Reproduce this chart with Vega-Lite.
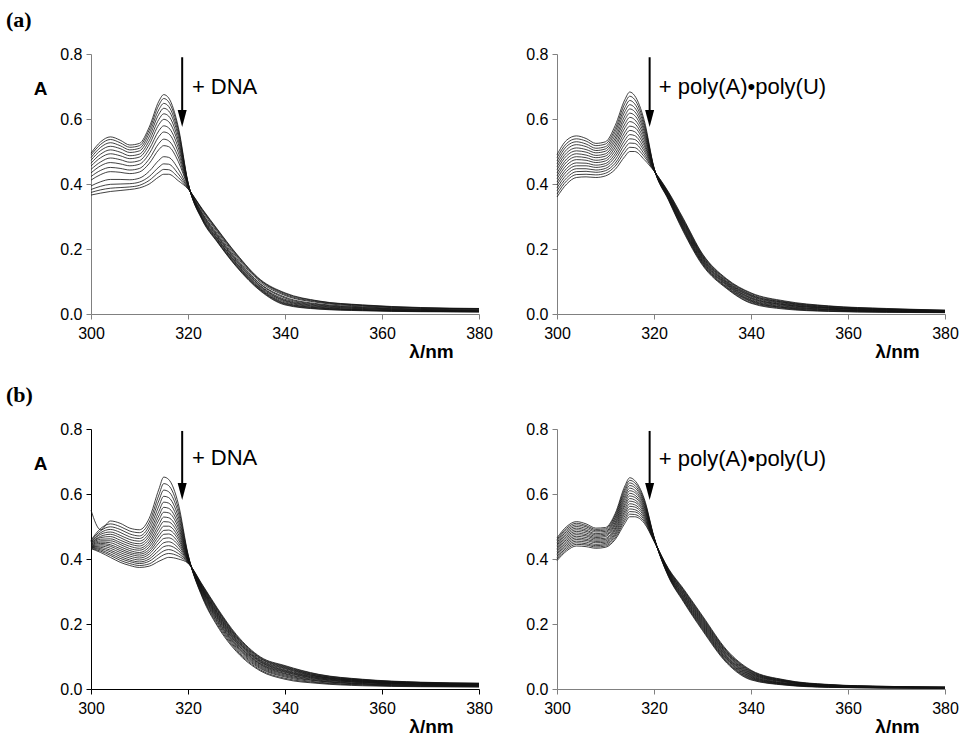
{
"$schema":"https://vega.github.io/schema/vega-lite/v6.json",
"background":"white",
"padding":{"left":6,"top":9,"right":4,"bottom":0},
"config":{"view":{"stroke":null},"font":"Liberation Sans",
"axis":{"domainColor":"#808080","tickColor":"#808080","tickSize":5,"domainWidth":1,"tickWidth":1,"labelFont":"Liberation Sans","labelFontSize":16,"labelColor":"#000","grid":false,"labelFlush":false,"labelOverlap":false,"labelBound":false,"titleFont":"Liberation Sans","titleFontWeight":"bold","titleFontSize":19,"titleColor":"#000"}},
"datasets":{
"a1":[
{"c":0,"x":300,"y":0.495},{"c":1,"x":300,"y":0.489},{"c":2,"x":300,"y":0.481},{"c":3,"x":300,"y":0.473},{"c":4,"x":300,"y":0.464},{"c":5,"x":300,"y":0.455},{"c":6,"x":300,"y":0.445},{"c":7,"x":300,"y":0.434},{"c":8,"x":300,"y":0.423},{"c":9,"x":300,"y":0.412},{"c":10,"x":300,"y":0.394},{"c":11,"x":300,"y":0.383},{"c":12,"x":300,"y":0.374},{"c":13,"x":300,"y":0.366},
{"c":0,"x":302,"y":0.530},{"c":1,"x":302,"y":0.522},{"c":2,"x":302,"y":0.513},{"c":3,"x":302,"y":0.503},{"c":4,"x":302,"y":0.492},{"c":5,"x":302,"y":0.481},{"c":6,"x":302,"y":0.468},{"c":7,"x":302,"y":0.456},{"c":8,"x":302,"y":0.442},{"c":9,"x":302,"y":0.429},{"c":10,"x":302,"y":0.407},{"c":11,"x":302,"y":0.393},{"c":12,"x":302,"y":0.382},{"c":13,"x":302,"y":0.372},
{"c":0,"x":304,"y":0.545},{"c":1,"x":304,"y":0.537},{"c":2,"x":304,"y":0.527},{"c":3,"x":304,"y":0.516},{"c":4,"x":304,"y":0.505},{"c":5,"x":304,"y":0.493},{"c":6,"x":304,"y":0.480},{"c":7,"x":304,"y":0.466},{"c":8,"x":304,"y":0.451},{"c":9,"x":304,"y":0.438},{"c":10,"x":304,"y":0.414},{"c":11,"x":304,"y":0.399},{"c":12,"x":304,"y":0.387},{"c":13,"x":304,"y":0.377},
{"c":0,"x":306,"y":0.535},{"c":1,"x":306,"y":0.527},{"c":2,"x":306,"y":0.518},{"c":3,"x":306,"y":0.509},{"c":4,"x":306,"y":0.498},{"c":5,"x":306,"y":0.487},{"c":6,"x":306,"y":0.475},{"c":7,"x":306,"y":0.462},{"c":8,"x":306,"y":0.448},{"c":9,"x":306,"y":0.436},{"c":10,"x":306,"y":0.414},{"c":11,"x":306,"y":0.400},{"c":12,"x":306,"y":0.389},{"c":13,"x":306,"y":0.380},
{"c":0,"x":308,"y":0.520},{"c":1,"x":308,"y":0.513},{"c":2,"x":308,"y":0.505},{"c":3,"x":308,"y":0.497},{"c":4,"x":308,"y":0.487},{"c":5,"x":308,"y":0.478},{"c":6,"x":308,"y":0.467},{"c":7,"x":308,"y":0.456},{"c":8,"x":308,"y":0.443},{"c":9,"x":308,"y":0.432},{"c":10,"x":308,"y":0.413},{"c":11,"x":308,"y":0.401},{"c":12,"x":308,"y":0.391},{"c":13,"x":308,"y":0.383},
{"c":0,"x":310,"y":0.525},{"c":1,"x":310,"y":0.518},{"c":2,"x":310,"y":0.510},{"c":3,"x":310,"y":0.502},{"c":4,"x":310,"y":0.492},{"c":5,"x":310,"y":0.483},{"c":6,"x":310,"y":0.472},{"c":7,"x":310,"y":0.461},{"c":8,"x":310,"y":0.448},{"c":9,"x":310,"y":0.437},{"c":10,"x":310,"y":0.418},{"c":11,"x":310,"y":0.406},{"c":12,"x":310,"y":0.396},{"c":13,"x":310,"y":0.388},
{"c":0,"x":312,"y":0.575},{"c":1,"x":312,"y":0.566},{"c":2,"x":312,"y":0.556},{"c":3,"x":312,"y":0.545},{"c":4,"x":312,"y":0.533},{"c":5,"x":312,"y":0.521},{"c":6,"x":312,"y":0.507},{"c":7,"x":312,"y":0.493},{"c":8,"x":312,"y":0.477},{"c":9,"x":312,"y":0.463},{"c":10,"x":312,"y":0.439},{"c":11,"x":312,"y":0.423},{"c":12,"x":312,"y":0.411},{"c":13,"x":312,"y":0.400},
{"c":0,"x":314,"y":0.655},{"c":1,"x":314,"y":0.643},{"c":2,"x":314,"y":0.629},{"c":3,"x":314,"y":0.615},{"c":4,"x":314,"y":0.599},{"c":5,"x":314,"y":0.583},{"c":6,"x":314,"y":0.564},{"c":7,"x":314,"y":0.546},{"c":8,"x":314,"y":0.525},{"c":9,"x":314,"y":0.506},{"c":10,"x":314,"y":0.473},{"c":11,"x":314,"y":0.452},{"c":12,"x":314,"y":0.436},{"c":13,"x":314,"y":0.422},
{"c":0,"x":315,"y":0.675},{"c":1,"x":315,"y":0.663},{"c":2,"x":315,"y":0.648},{"c":3,"x":315,"y":0.633},{"c":4,"x":315,"y":0.616},{"c":5,"x":315,"y":0.599},{"c":6,"x":315,"y":0.579},{"c":7,"x":315,"y":0.560},{"c":8,"x":315,"y":0.538},{"c":9,"x":315,"y":0.518},{"c":10,"x":315,"y":0.484},{"c":11,"x":315,"y":0.462},{"c":12,"x":315,"y":0.445},{"c":13,"x":315,"y":0.430},
{"c":0,"x":316,"y":0.665},{"c":1,"x":316,"y":0.653},{"c":2,"x":316,"y":0.639},{"c":3,"x":316,"y":0.625},{"c":4,"x":316,"y":0.609},{"c":5,"x":316,"y":0.592},{"c":6,"x":316,"y":0.573},{"c":7,"x":316,"y":0.555},{"c":8,"x":316,"y":0.533},{"c":9,"x":316,"y":0.515},{"c":10,"x":316,"y":0.482},{"c":11,"x":316,"y":0.461},{"c":12,"x":316,"y":0.444},{"c":13,"x":316,"y":0.430},
{"c":0,"x":318,"y":0.575},{"c":1,"x":318,"y":0.567},{"c":2,"x":318,"y":0.557},{"c":3,"x":318,"y":0.547},{"c":4,"x":318,"y":0.535},{"c":5,"x":318,"y":0.524},{"c":6,"x":318,"y":0.511},{"c":7,"x":318,"y":0.497},{"c":8,"x":318,"y":0.483},{"c":9,"x":318,"y":0.469},{"c":10,"x":318,"y":0.446},{"c":11,"x":318,"y":0.431},{"c":12,"x":318,"y":0.420},{"c":13,"x":318,"y":0.410},
{"c":0,"x":320,"y":0.405},{"c":1,"x":320,"y":0.404},{"c":2,"x":320,"y":0.403},{"c":3,"x":320,"y":0.402},{"c":4,"x":320,"y":0.400},{"c":5,"x":320,"y":0.399},{"c":6,"x":320,"y":0.397},{"c":7,"x":320,"y":0.396},{"c":8,"x":320,"y":0.394},{"c":9,"x":320,"y":0.392},{"c":10,"x":320,"y":0.389},{"c":11,"x":320,"y":0.388},{"c":12,"x":320,"y":0.386},{"c":13,"x":320,"y":0.385},
{"c":0,"x":323,"y":0.287},{"c":1,"x":323,"y":0.289},{"c":2,"x":323,"y":0.291},{"c":3,"x":323,"y":0.293},{"c":4,"x":323,"y":0.295},{"c":5,"x":323,"y":0.298},{"c":6,"x":323,"y":0.301},{"c":7,"x":323,"y":0.304},{"c":8,"x":323,"y":0.307},{"c":9,"x":323,"y":0.309},{"c":10,"x":323,"y":0.314},{"c":11,"x":323,"y":0.318},{"c":12,"x":323,"y":0.320},{"c":13,"x":323,"y":0.322},
{"c":0,"x":326,"y":0.222},{"c":1,"x":326,"y":0.224},{"c":2,"x":326,"y":0.226},{"c":3,"x":326,"y":0.229},{"c":4,"x":326,"y":0.232},{"c":5,"x":326,"y":0.234},{"c":6,"x":326,"y":0.238},{"c":7,"x":326,"y":0.241},{"c":8,"x":326,"y":0.244},{"c":9,"x":326,"y":0.248},{"c":10,"x":326,"y":0.253},{"c":11,"x":326,"y":0.257},{"c":12,"x":326,"y":0.260},{"c":13,"x":326,"y":0.262},
{"c":0,"x":330,"y":0.145},{"c":1,"x":330,"y":0.147},{"c":2,"x":330,"y":0.149},{"c":3,"x":330,"y":0.152},{"c":4,"x":330,"y":0.155},{"c":5,"x":330,"y":0.157},{"c":6,"x":330,"y":0.161},{"c":7,"x":330,"y":0.164},{"c":8,"x":330,"y":0.167},{"c":9,"x":330,"y":0.171},{"c":10,"x":330,"y":0.176},{"c":11,"x":330,"y":0.180},{"c":12,"x":330,"y":0.183},{"c":13,"x":330,"y":0.185},
{"c":0,"x":335,"y":0.070},{"c":1,"x":335,"y":0.072},{"c":2,"x":335,"y":0.074},{"c":3,"x":335,"y":0.076},{"c":4,"x":335,"y":0.078},{"c":5,"x":335,"y":0.081},{"c":6,"x":335,"y":0.084},{"c":7,"x":335,"y":0.086},{"c":8,"x":335,"y":0.090},{"c":9,"x":335,"y":0.092},{"c":10,"x":335,"y":0.097},{"c":11,"x":335,"y":0.101},{"c":12,"x":335,"y":0.103},{"c":13,"x":335,"y":0.105},
{"c":0,"x":340,"y":0.028},{"c":1,"x":340,"y":0.030},{"c":2,"x":340,"y":0.032},{"c":3,"x":340,"y":0.034},{"c":4,"x":340,"y":0.037},{"c":5,"x":340,"y":0.040},{"c":6,"x":340,"y":0.042},{"c":7,"x":340,"y":0.045},{"c":8,"x":340,"y":0.049},{"c":9,"x":340,"y":0.052},{"c":10,"x":340,"y":0.057},{"c":11,"x":340,"y":0.060},{"c":12,"x":340,"y":0.063},{"c":13,"x":340,"y":0.065},
{"c":0,"x":347,"y":0.015},{"c":1,"x":347,"y":0.016},{"c":2,"x":347,"y":0.018},{"c":3,"x":347,"y":0.019},{"c":4,"x":347,"y":0.021},{"c":5,"x":347,"y":0.023},{"c":6,"x":347,"y":0.025},{"c":7,"x":347,"y":0.027},{"c":8,"x":347,"y":0.029},{"c":9,"x":347,"y":0.031},{"c":10,"x":347,"y":0.035},{"c":11,"x":347,"y":0.037},{"c":12,"x":347,"y":0.039},{"c":13,"x":347,"y":0.040},
{"c":0,"x":356,"y":0.010},{"c":1,"x":356,"y":0.011},{"c":2,"x":356,"y":0.012},{"c":3,"x":356,"y":0.013},{"c":4,"x":356,"y":0.014},{"c":5,"x":356,"y":0.016},{"c":6,"x":356,"y":0.017},{"c":7,"x":356,"y":0.019},{"c":8,"x":356,"y":0.020},{"c":9,"x":356,"y":0.022},{"c":10,"x":356,"y":0.024},{"c":11,"x":356,"y":0.026},{"c":12,"x":356,"y":0.027},{"c":13,"x":356,"y":0.028},
{"c":0,"x":368,"y":0.007},{"c":1,"x":368,"y":0.008},{"c":2,"x":368,"y":0.008},{"c":3,"x":368,"y":0.009},{"c":4,"x":368,"y":0.010},{"c":5,"x":368,"y":0.011},{"c":6,"x":368,"y":0.012},{"c":7,"x":368,"y":0.013},{"c":8,"x":368,"y":0.014},{"c":9,"x":368,"y":0.015},{"c":10,"x":368,"y":0.017},{"c":11,"x":368,"y":0.018},{"c":12,"x":368,"y":0.019},{"c":13,"x":368,"y":0.020},
{"c":0,"x":380,"y":0.006},{"c":1,"x":380,"y":0.007},{"c":2,"x":380,"y":0.007},{"c":3,"x":380,"y":0.008},{"c":4,"x":380,"y":0.009},{"c":5,"x":380,"y":0.009},{"c":6,"x":380,"y":0.010},{"c":7,"x":380,"y":0.011},{"c":8,"x":380,"y":0.012},{"c":9,"x":380,"y":0.013},{"c":10,"x":380,"y":0.015},{"c":11,"x":380,"y":0.016},{"c":12,"x":380,"y":0.016},{"c":13,"x":380,"y":0.017}
],
"a2":[
{"c":0,"x":300,"y":0.490},{"c":1,"x":300,"y":0.481},{"c":2,"x":300,"y":0.471},{"c":3,"x":300,"y":0.462},{"c":4,"x":300,"y":0.453},{"c":5,"x":300,"y":0.444},{"c":6,"x":300,"y":0.434},{"c":7,"x":300,"y":0.425},{"c":8,"x":300,"y":0.416},{"c":9,"x":300,"y":0.406},{"c":10,"x":300,"y":0.397},{"c":11,"x":300,"y":0.388},{"c":12,"x":300,"y":0.379},{"c":13,"x":300,"y":0.369},{"c":14,"x":300,"y":0.360},
{"c":0,"x":302,"y":0.535},{"c":1,"x":302,"y":0.525},{"c":2,"x":302,"y":0.516},{"c":3,"x":302,"y":0.506},{"c":4,"x":302,"y":0.496},{"c":5,"x":302,"y":0.487},{"c":6,"x":302,"y":0.477},{"c":7,"x":302,"y":0.468},{"c":8,"x":302,"y":0.458},{"c":9,"x":302,"y":0.448},{"c":10,"x":302,"y":0.439},{"c":11,"x":302,"y":0.429},{"c":12,"x":302,"y":0.419},{"c":13,"x":302,"y":0.410},{"c":14,"x":302,"y":0.400},
{"c":0,"x":304,"y":0.548},{"c":1,"x":304,"y":0.539},{"c":2,"x":304,"y":0.530},{"c":3,"x":304,"y":0.521},{"c":4,"x":304,"y":0.511},{"c":5,"x":304,"y":0.502},{"c":6,"x":304,"y":0.493},{"c":7,"x":304,"y":0.484},{"c":8,"x":304,"y":0.475},{"c":9,"x":304,"y":0.465},{"c":10,"x":304,"y":0.456},{"c":11,"x":304,"y":0.447},{"c":12,"x":304,"y":0.438},{"c":13,"x":304,"y":0.429},{"c":14,"x":304,"y":0.420},
{"c":0,"x":306,"y":0.540},{"c":1,"x":306,"y":0.532},{"c":2,"x":306,"y":0.523},{"c":3,"x":306,"y":0.515},{"c":4,"x":306,"y":0.506},{"c":5,"x":306,"y":0.498},{"c":6,"x":306,"y":0.489},{"c":7,"x":306,"y":0.481},{"c":8,"x":306,"y":0.473},{"c":9,"x":306,"y":0.464},{"c":10,"x":306,"y":0.456},{"c":11,"x":306,"y":0.447},{"c":12,"x":306,"y":0.439},{"c":13,"x":306,"y":0.430},{"c":14,"x":306,"y":0.422},
{"c":0,"x":308,"y":0.525},{"c":1,"x":308,"y":0.518},{"c":2,"x":308,"y":0.510},{"c":3,"x":308,"y":0.503},{"c":4,"x":308,"y":0.496},{"c":5,"x":308,"y":0.488},{"c":6,"x":308,"y":0.481},{"c":7,"x":308,"y":0.473},{"c":8,"x":308,"y":0.466},{"c":9,"x":308,"y":0.458},{"c":10,"x":308,"y":0.451},{"c":11,"x":308,"y":0.443},{"c":12,"x":308,"y":0.436},{"c":13,"x":308,"y":0.428},{"c":14,"x":308,"y":0.420},
{"c":0,"x":310,"y":0.530},{"c":1,"x":310,"y":0.523},{"c":2,"x":310,"y":0.515},{"c":3,"x":310,"y":0.508},{"c":4,"x":310,"y":0.501},{"c":5,"x":310,"y":0.493},{"c":6,"x":310,"y":0.486},{"c":7,"x":310,"y":0.478},{"c":8,"x":310,"y":0.471},{"c":9,"x":310,"y":0.463},{"c":10,"x":310,"y":0.456},{"c":11,"x":310,"y":0.448},{"c":12,"x":310,"y":0.441},{"c":13,"x":310,"y":0.433},{"c":14,"x":310,"y":0.425},
{"c":0,"x":312,"y":0.580},{"c":1,"x":312,"y":0.570},{"c":2,"x":312,"y":0.561},{"c":3,"x":312,"y":0.551},{"c":4,"x":312,"y":0.541},{"c":5,"x":312,"y":0.532},{"c":6,"x":312,"y":0.522},{"c":7,"x":312,"y":0.513},{"c":8,"x":312,"y":0.503},{"c":9,"x":312,"y":0.493},{"c":10,"x":312,"y":0.484},{"c":11,"x":312,"y":0.474},{"c":12,"x":312,"y":0.464},{"c":13,"x":312,"y":0.455},{"c":14,"x":312,"y":0.445},
{"c":0,"x":314,"y":0.660},{"c":1,"x":314,"y":0.648},{"c":2,"x":314,"y":0.635},{"c":3,"x":314,"y":0.623},{"c":4,"x":314,"y":0.610},{"c":5,"x":314,"y":0.598},{"c":6,"x":314,"y":0.585},{"c":7,"x":314,"y":0.573},{"c":8,"x":314,"y":0.560},{"c":9,"x":314,"y":0.548},{"c":10,"x":314,"y":0.535},{"c":11,"x":314,"y":0.523},{"c":12,"x":314,"y":0.510},{"c":13,"x":314,"y":0.498},{"c":14,"x":314,"y":0.485},
{"c":0,"x":315,"y":0.683},{"c":1,"x":315,"y":0.670},{"c":2,"x":315,"y":0.657},{"c":3,"x":315,"y":0.644},{"c":4,"x":315,"y":0.631},{"c":5,"x":315,"y":0.618},{"c":6,"x":315,"y":0.605},{"c":7,"x":315,"y":0.592},{"c":8,"x":315,"y":0.578},{"c":9,"x":315,"y":0.565},{"c":10,"x":315,"y":0.552},{"c":11,"x":315,"y":0.539},{"c":12,"x":315,"y":0.526},{"c":13,"x":315,"y":0.513},{"c":14,"x":315,"y":0.500},
{"c":0,"x":316,"y":0.672},{"c":1,"x":316,"y":0.660},{"c":2,"x":316,"y":0.647},{"c":3,"x":316,"y":0.635},{"c":4,"x":316,"y":0.623},{"c":5,"x":316,"y":0.611},{"c":6,"x":316,"y":0.598},{"c":7,"x":316,"y":0.586},{"c":8,"x":316,"y":0.574},{"c":9,"x":316,"y":0.561},{"c":10,"x":316,"y":0.549},{"c":11,"x":316,"y":0.537},{"c":12,"x":316,"y":0.525},{"c":13,"x":316,"y":0.512},{"c":14,"x":316,"y":0.500},
{"c":0,"x":318,"y":0.595},{"c":1,"x":318,"y":0.586},{"c":2,"x":318,"y":0.578},{"c":3,"x":318,"y":0.569},{"c":4,"x":318,"y":0.561},{"c":5,"x":318,"y":0.552},{"c":6,"x":318,"y":0.544},{"c":7,"x":318,"y":0.535},{"c":8,"x":318,"y":0.526},{"c":9,"x":318,"y":0.518},{"c":10,"x":318,"y":0.509},{"c":11,"x":318,"y":0.501},{"c":12,"x":318,"y":0.492},{"c":13,"x":318,"y":0.484},{"c":14,"x":318,"y":0.475},
{"c":0,"x":320,"y":0.450},{"c":1,"x":320,"y":0.449},{"c":2,"x":320,"y":0.449},{"c":3,"x":320,"y":0.448},{"c":4,"x":320,"y":0.447},{"c":5,"x":320,"y":0.446},{"c":6,"x":320,"y":0.446},{"c":7,"x":320,"y":0.445},{"c":8,"x":320,"y":0.444},{"c":9,"x":320,"y":0.444},{"c":10,"x":320,"y":0.443},{"c":11,"x":320,"y":0.442},{"c":12,"x":320,"y":0.441},{"c":13,"x":320,"y":0.441},{"c":14,"x":320,"y":0.440},
{"c":0,"x":323,"y":0.350},{"c":1,"x":323,"y":0.352},{"c":2,"x":323,"y":0.354},{"c":3,"x":323,"y":0.355},{"c":4,"x":323,"y":0.357},{"c":5,"x":323,"y":0.359},{"c":6,"x":323,"y":0.361},{"c":7,"x":323,"y":0.363},{"c":8,"x":323,"y":0.364},{"c":9,"x":323,"y":0.366},{"c":10,"x":323,"y":0.368},{"c":11,"x":323,"y":0.370},{"c":12,"x":323,"y":0.371},{"c":13,"x":323,"y":0.373},{"c":14,"x":323,"y":0.375},
{"c":0,"x":326,"y":0.255},{"c":1,"x":326,"y":0.258},{"c":2,"x":326,"y":0.261},{"c":3,"x":326,"y":0.264},{"c":4,"x":326,"y":0.266},{"c":5,"x":326,"y":0.269},{"c":6,"x":326,"y":0.272},{"c":7,"x":326,"y":0.275},{"c":8,"x":326,"y":0.278},{"c":9,"x":326,"y":0.281},{"c":10,"x":326,"y":0.284},{"c":11,"x":326,"y":0.286},{"c":12,"x":326,"y":0.289},{"c":13,"x":326,"y":0.292},{"c":14,"x":326,"y":0.295},
{"c":0,"x":330,"y":0.150},{"c":1,"x":330,"y":0.153},{"c":2,"x":330,"y":0.155},{"c":3,"x":330,"y":0.158},{"c":4,"x":330,"y":0.160},{"c":5,"x":330,"y":0.163},{"c":6,"x":330,"y":0.165},{"c":7,"x":330,"y":0.168},{"c":8,"x":330,"y":0.170},{"c":9,"x":330,"y":0.173},{"c":10,"x":330,"y":0.175},{"c":11,"x":330,"y":0.178},{"c":12,"x":330,"y":0.180},{"c":13,"x":330,"y":0.183},{"c":14,"x":330,"y":0.185},
{"c":0,"x":335,"y":0.078},{"c":1,"x":335,"y":0.080},{"c":2,"x":335,"y":0.082},{"c":3,"x":335,"y":0.084},{"c":4,"x":335,"y":0.087},{"c":5,"x":335,"y":0.089},{"c":6,"x":335,"y":0.091},{"c":7,"x":335,"y":0.093},{"c":8,"x":335,"y":0.095},{"c":9,"x":335,"y":0.097},{"c":10,"x":335,"y":0.099},{"c":11,"x":335,"y":0.101},{"c":12,"x":335,"y":0.104},{"c":13,"x":335,"y":0.106},{"c":14,"x":335,"y":0.108},
{"c":0,"x":340,"y":0.033},{"c":1,"x":340,"y":0.035},{"c":2,"x":340,"y":0.038},{"c":3,"x":340,"y":0.040},{"c":4,"x":340,"y":0.042},{"c":5,"x":340,"y":0.044},{"c":6,"x":340,"y":0.047},{"c":7,"x":340,"y":0.049},{"c":8,"x":340,"y":0.051},{"c":9,"x":340,"y":0.054},{"c":10,"x":340,"y":0.056},{"c":11,"x":340,"y":0.058},{"c":12,"x":340,"y":0.060},{"c":13,"x":340,"y":0.063},{"c":14,"x":340,"y":0.065},
{"c":0,"x":347,"y":0.015},{"c":1,"x":347,"y":0.017},{"c":2,"x":347,"y":0.019},{"c":3,"x":347,"y":0.020},{"c":4,"x":347,"y":0.022},{"c":5,"x":347,"y":0.024},{"c":6,"x":347,"y":0.026},{"c":7,"x":347,"y":0.028},{"c":8,"x":347,"y":0.029},{"c":9,"x":347,"y":0.031},{"c":10,"x":347,"y":0.033},{"c":11,"x":347,"y":0.035},{"c":12,"x":347,"y":0.036},{"c":13,"x":347,"y":0.038},{"c":14,"x":347,"y":0.040},
{"c":0,"x":356,"y":0.008},{"c":1,"x":356,"y":0.009},{"c":2,"x":356,"y":0.010},{"c":3,"x":356,"y":0.012},{"c":4,"x":356,"y":0.013},{"c":5,"x":356,"y":0.014},{"c":6,"x":356,"y":0.015},{"c":7,"x":356,"y":0.017},{"c":8,"x":356,"y":0.018},{"c":9,"x":356,"y":0.019},{"c":10,"x":356,"y":0.020},{"c":11,"x":356,"y":0.021},{"c":12,"x":356,"y":0.023},{"c":13,"x":356,"y":0.024},{"c":14,"x":356,"y":0.025},
{"c":0,"x":368,"y":0.005},{"c":1,"x":368,"y":0.006},{"c":2,"x":368,"y":0.007},{"c":3,"x":368,"y":0.008},{"c":4,"x":368,"y":0.008},{"c":5,"x":368,"y":0.009},{"c":6,"x":368,"y":0.010},{"c":7,"x":368,"y":0.011},{"c":8,"x":368,"y":0.012},{"c":9,"x":368,"y":0.013},{"c":10,"x":368,"y":0.014},{"c":11,"x":368,"y":0.014},{"c":12,"x":368,"y":0.015},{"c":13,"x":368,"y":0.016},{"c":14,"x":368,"y":0.017},
{"c":0,"x":380,"y":0.004},{"c":1,"x":380,"y":0.005},{"c":2,"x":380,"y":0.005},{"c":3,"x":380,"y":0.005},{"c":4,"x":380,"y":0.006},{"c":5,"x":380,"y":0.006},{"c":6,"x":380,"y":0.007},{"c":7,"x":380,"y":0.008},{"c":8,"x":380,"y":0.009},{"c":9,"x":380,"y":0.009},{"c":10,"x":380,"y":0.010},{"c":11,"x":380,"y":0.010},{"c":12,"x":380,"y":0.011},{"c":13,"x":380,"y":0.011},{"c":14,"x":380,"y":0.012}
],
"b1":[
{"c":0,"x":300,"y":0.550},{"c":1,"x":300,"y":0.458},{"c":2,"x":300,"y":0.456},{"c":3,"x":300,"y":0.453},{"c":4,"x":300,"y":0.452},{"c":5,"x":300,"y":0.450},{"c":6,"x":300,"y":0.448},{"c":7,"x":300,"y":0.446},{"c":8,"x":300,"y":0.445},{"c":9,"x":300,"y":0.443},{"c":10,"x":300,"y":0.442},{"c":11,"x":300,"y":0.440},{"c":12,"x":300,"y":0.439},{"c":13,"x":300,"y":0.438},{"c":14,"x":300,"y":0.436},{"c":15,"x":300,"y":0.435},{"c":16,"x":300,"y":0.433},{"c":17,"x":300,"y":0.432},
{"c":0,"x":302,"y":0.490},{"c":1,"x":302,"y":0.494},{"c":2,"x":302,"y":0.487},{"c":3,"x":302,"y":0.481},{"c":4,"x":302,"y":0.476},{"c":5,"x":302,"y":0.470},{"c":6,"x":302,"y":0.466},{"c":7,"x":302,"y":0.461},{"c":8,"x":302,"y":0.456},{"c":9,"x":302,"y":0.452},{"c":10,"x":302,"y":0.448},{"c":11,"x":302,"y":0.444},{"c":12,"x":302,"y":0.440},{"c":13,"x":302,"y":0.436},{"c":14,"x":302,"y":0.432},{"c":15,"x":302,"y":0.428},{"c":16,"x":302,"y":0.424},{"c":17,"x":302,"y":0.420},
{"c":0,"x":304,"y":0.517},{"c":1,"x":304,"y":0.508},{"c":2,"x":304,"y":0.499},{"c":3,"x":304,"y":0.491},{"c":4,"x":304,"y":0.483},{"c":5,"x":304,"y":0.476},{"c":6,"x":304,"y":0.469},{"c":7,"x":304,"y":0.462},{"c":8,"x":304,"y":0.456},{"c":9,"x":304,"y":0.450},{"c":10,"x":304,"y":0.444},{"c":11,"x":304,"y":0.439},{"c":12,"x":304,"y":0.433},{"c":13,"x":304,"y":0.427},{"c":14,"x":304,"y":0.422},{"c":15,"x":304,"y":0.416},{"c":16,"x":304,"y":0.411},{"c":17,"x":304,"y":0.405},
{"c":0,"x":306,"y":0.510},{"c":1,"x":306,"y":0.500},{"c":2,"x":306,"y":0.491},{"c":3,"x":306,"y":0.482},{"c":4,"x":306,"y":0.473},{"c":5,"x":306,"y":0.466},{"c":6,"x":306,"y":0.458},{"c":7,"x":306,"y":0.451},{"c":8,"x":306,"y":0.445},{"c":9,"x":306,"y":0.438},{"c":10,"x":306,"y":0.432},{"c":11,"x":306,"y":0.426},{"c":12,"x":306,"y":0.420},{"c":13,"x":306,"y":0.414},{"c":14,"x":306,"y":0.408},{"c":15,"x":306,"y":0.402},{"c":16,"x":306,"y":0.396},{"c":17,"x":306,"y":0.390},
{"c":0,"x":308,"y":0.495},{"c":1,"x":308,"y":0.486},{"c":2,"x":308,"y":0.477},{"c":3,"x":308,"y":0.468},{"c":4,"x":308,"y":0.460},{"c":5,"x":308,"y":0.452},{"c":6,"x":308,"y":0.446},{"c":7,"x":308,"y":0.439},{"c":8,"x":308,"y":0.432},{"c":9,"x":308,"y":0.426},{"c":10,"x":308,"y":0.420},{"c":11,"x":308,"y":0.415},{"c":12,"x":308,"y":0.409},{"c":13,"x":308,"y":0.403},{"c":14,"x":308,"y":0.397},{"c":15,"x":308,"y":0.392},{"c":16,"x":308,"y":0.386},{"c":17,"x":308,"y":0.380},
{"c":0,"x":310,"y":0.490},{"c":1,"x":310,"y":0.481},{"c":2,"x":310,"y":0.471},{"c":3,"x":310,"y":0.463},{"c":4,"x":310,"y":0.455},{"c":5,"x":310,"y":0.447},{"c":6,"x":310,"y":0.440},{"c":7,"x":310,"y":0.433},{"c":8,"x":310,"y":0.427},{"c":9,"x":310,"y":0.420},{"c":10,"x":310,"y":0.415},{"c":11,"x":310,"y":0.409},{"c":12,"x":310,"y":0.403},{"c":13,"x":310,"y":0.397},{"c":14,"x":310,"y":0.391},{"c":15,"x":310,"y":0.386},{"c":16,"x":310,"y":0.380},{"c":17,"x":310,"y":0.374},
{"c":0,"x":312,"y":0.525},{"c":1,"x":312,"y":0.513},{"c":2,"x":312,"y":0.502},{"c":3,"x":312,"y":0.491},{"c":4,"x":312,"y":0.480},{"c":5,"x":312,"y":0.471},{"c":6,"x":312,"y":0.462},{"c":7,"x":312,"y":0.453},{"c":8,"x":312,"y":0.445},{"c":9,"x":312,"y":0.437},{"c":10,"x":312,"y":0.429},{"c":11,"x":312,"y":0.422},{"c":12,"x":312,"y":0.415},{"c":13,"x":312,"y":0.407},{"c":14,"x":312,"y":0.400},{"c":15,"x":312,"y":0.393},{"c":16,"x":312,"y":0.385},{"c":17,"x":312,"y":0.378},
{"c":0,"x":314,"y":0.615},{"c":1,"x":314,"y":0.597},{"c":2,"x":314,"y":0.580},{"c":3,"x":314,"y":0.563},{"c":4,"x":314,"y":0.547},{"c":5,"x":314,"y":0.533},{"c":6,"x":314,"y":0.520},{"c":7,"x":314,"y":0.506},{"c":8,"x":314,"y":0.494},{"c":9,"x":314,"y":0.482},{"c":10,"x":314,"y":0.471},{"c":11,"x":314,"y":0.460},{"c":12,"x":314,"y":0.449},{"c":13,"x":314,"y":0.437},{"c":14,"x":314,"y":0.426},{"c":15,"x":314,"y":0.415},{"c":16,"x":314,"y":0.404},{"c":17,"x":314,"y":0.393},
{"c":0,"x":315,"y":0.652},{"c":1,"x":315,"y":0.632},{"c":2,"x":315,"y":0.612},{"c":3,"x":315,"y":0.593},{"c":4,"x":315,"y":0.575},{"c":5,"x":315,"y":0.559},{"c":6,"x":315,"y":0.544},{"c":7,"x":315,"y":0.529},{"c":8,"x":315,"y":0.515},{"c":9,"x":315,"y":0.501},{"c":10,"x":315,"y":0.488},{"c":11,"x":315,"y":0.476},{"c":12,"x":315,"y":0.463},{"c":13,"x":315,"y":0.450},{"c":14,"x":315,"y":0.438},{"c":15,"x":315,"y":0.425},{"c":16,"x":315,"y":0.413},{"c":17,"x":315,"y":0.400},
{"c":0,"x":316,"y":0.645},{"c":1,"x":316,"y":0.626},{"c":2,"x":316,"y":0.607},{"c":3,"x":316,"y":0.589},{"c":4,"x":316,"y":0.572},{"c":5,"x":316,"y":0.556},{"c":6,"x":316,"y":0.542},{"c":7,"x":316,"y":0.527},{"c":8,"x":316,"y":0.514},{"c":9,"x":316,"y":0.501},{"c":10,"x":316,"y":0.489},{"c":11,"x":316,"y":0.477},{"c":12,"x":316,"y":0.465},{"c":13,"x":316,"y":0.453},{"c":14,"x":316,"y":0.441},{"c":15,"x":316,"y":0.429},{"c":16,"x":316,"y":0.417},{"c":17,"x":316,"y":0.405},
{"c":0,"x":318,"y":0.570},{"c":1,"x":318,"y":0.556},{"c":2,"x":318,"y":0.543},{"c":3,"x":318,"y":0.530},{"c":4,"x":318,"y":0.518},{"c":5,"x":318,"y":0.507},{"c":6,"x":318,"y":0.497},{"c":7,"x":318,"y":0.487},{"c":8,"x":318,"y":0.477},{"c":9,"x":318,"y":0.468},{"c":10,"x":318,"y":0.460},{"c":11,"x":318,"y":0.451},{"c":12,"x":318,"y":0.443},{"c":13,"x":318,"y":0.434},{"c":14,"x":318,"y":0.426},{"c":15,"x":318,"y":0.417},{"c":16,"x":318,"y":0.409},{"c":17,"x":318,"y":0.400},
{"c":0,"x":320,"y":0.415},{"c":1,"x":320,"y":0.413},{"c":2,"x":320,"y":0.411},{"c":3,"x":320,"y":0.408},{"c":4,"x":320,"y":0.406},{"c":5,"x":320,"y":0.405},{"c":6,"x":320,"y":0.403},{"c":7,"x":320,"y":0.401},{"c":8,"x":320,"y":0.400},{"c":9,"x":320,"y":0.398},{"c":10,"x":320,"y":0.397},{"c":11,"x":320,"y":0.395},{"c":12,"x":320,"y":0.394},{"c":13,"x":320,"y":0.393},{"c":14,"x":320,"y":0.391},{"c":15,"x":320,"y":0.390},{"c":16,"x":320,"y":0.388},{"c":17,"x":320,"y":0.387},
{"c":0,"x":323,"y":0.280},{"c":1,"x":323,"y":0.283},{"c":2,"x":323,"y":0.286},{"c":3,"x":323,"y":0.289},{"c":4,"x":323,"y":0.292},{"c":5,"x":323,"y":0.295},{"c":6,"x":323,"y":0.297},{"c":7,"x":323,"y":0.300},{"c":8,"x":323,"y":0.302},{"c":9,"x":323,"y":0.304},{"c":10,"x":323,"y":0.306},{"c":11,"x":323,"y":0.308},{"c":12,"x":323,"y":0.310},{"c":13,"x":323,"y":0.312},{"c":14,"x":323,"y":0.314},{"c":15,"x":323,"y":0.316},{"c":16,"x":323,"y":0.318},{"c":17,"x":323,"y":0.320},
{"c":0,"x":326,"y":0.195},{"c":1,"x":326,"y":0.199},{"c":2,"x":326,"y":0.204},{"c":3,"x":326,"y":0.208},{"c":4,"x":326,"y":0.212},{"c":5,"x":326,"y":0.215},{"c":6,"x":326,"y":0.219},{"c":7,"x":326,"y":0.222},{"c":8,"x":326,"y":0.225},{"c":9,"x":326,"y":0.228},{"c":10,"x":326,"y":0.231},{"c":11,"x":326,"y":0.234},{"c":12,"x":326,"y":0.236},{"c":13,"x":326,"y":0.239},{"c":14,"x":326,"y":0.242},{"c":15,"x":326,"y":0.245},{"c":16,"x":326,"y":0.247},{"c":17,"x":326,"y":0.250},
{"c":0,"x":330,"y":0.115},{"c":1,"x":330,"y":0.119},{"c":2,"x":330,"y":0.123},{"c":3,"x":330,"y":0.127},{"c":4,"x":330,"y":0.131},{"c":5,"x":330,"y":0.134},{"c":6,"x":330,"y":0.137},{"c":7,"x":330,"y":0.141},{"c":8,"x":330,"y":0.143},{"c":9,"x":330,"y":0.146},{"c":10,"x":330,"y":0.149},{"c":11,"x":330,"y":0.151},{"c":12,"x":330,"y":0.154},{"c":13,"x":330,"y":0.157},{"c":14,"x":330,"y":0.159},{"c":15,"x":330,"y":0.162},{"c":16,"x":330,"y":0.164},{"c":17,"x":330,"y":0.167},
{"c":0,"x":335,"y":0.055},{"c":1,"x":335,"y":0.058},{"c":2,"x":335,"y":0.062},{"c":3,"x":335,"y":0.065},{"c":4,"x":335,"y":0.068},{"c":5,"x":335,"y":0.071},{"c":6,"x":335,"y":0.074},{"c":7,"x":335,"y":0.076},{"c":8,"x":335,"y":0.078},{"c":9,"x":335,"y":0.081},{"c":10,"x":335,"y":0.083},{"c":11,"x":335,"y":0.085},{"c":12,"x":335,"y":0.087},{"c":13,"x":335,"y":0.089},{"c":14,"x":335,"y":0.092},{"c":15,"x":335,"y":0.094},{"c":16,"x":335,"y":0.096},{"c":17,"x":335,"y":0.098},
{"c":0,"x":340,"y":0.030},{"c":1,"x":340,"y":0.033},{"c":2,"x":340,"y":0.037},{"c":3,"x":340,"y":0.040},{"c":4,"x":340,"y":0.043},{"c":5,"x":340,"y":0.046},{"c":6,"x":340,"y":0.048},{"c":7,"x":340,"y":0.051},{"c":8,"x":340,"y":0.053},{"c":9,"x":340,"y":0.055},{"c":10,"x":340,"y":0.057},{"c":11,"x":340,"y":0.059},{"c":12,"x":340,"y":0.062},{"c":13,"x":340,"y":0.064},{"c":14,"x":340,"y":0.066},{"c":15,"x":340,"y":0.068},{"c":16,"x":340,"y":0.070},{"c":17,"x":340,"y":0.072},
{"c":0,"x":347,"y":0.017},{"c":1,"x":347,"y":0.019},{"c":2,"x":347,"y":0.021},{"c":3,"x":347,"y":0.024},{"c":4,"x":347,"y":0.025},{"c":5,"x":347,"y":0.027},{"c":6,"x":347,"y":0.029},{"c":7,"x":347,"y":0.031},{"c":8,"x":347,"y":0.032},{"c":9,"x":347,"y":0.034},{"c":10,"x":347,"y":0.035},{"c":11,"x":347,"y":0.037},{"c":12,"x":347,"y":0.038},{"c":13,"x":347,"y":0.039},{"c":14,"x":347,"y":0.041},{"c":15,"x":347,"y":0.042},{"c":16,"x":347,"y":0.044},{"c":17,"x":347,"y":0.045},
{"c":0,"x":356,"y":0.010},{"c":1,"x":356,"y":0.012},{"c":2,"x":356,"y":0.013},{"c":3,"x":356,"y":0.015},{"c":4,"x":356,"y":0.016},{"c":5,"x":356,"y":0.017},{"c":6,"x":356,"y":0.019},{"c":7,"x":356,"y":0.020},{"c":8,"x":356,"y":0.021},{"c":9,"x":356,"y":0.022},{"c":10,"x":356,"y":0.023},{"c":11,"x":356,"y":0.024},{"c":12,"x":356,"y":0.025},{"c":13,"x":356,"y":0.026},{"c":14,"x":356,"y":0.027},{"c":15,"x":356,"y":0.028},{"c":16,"x":356,"y":0.029},{"c":17,"x":356,"y":0.030},
{"c":0,"x":368,"y":0.007},{"c":1,"x":368,"y":0.008},{"c":2,"x":368,"y":0.009},{"c":3,"x":368,"y":0.010},{"c":4,"x":368,"y":0.011},{"c":5,"x":368,"y":0.012},{"c":6,"x":368,"y":0.013},{"c":7,"x":368,"y":0.014},{"c":8,"x":368,"y":0.015},{"c":9,"x":368,"y":0.015},{"c":10,"x":368,"y":0.016},{"c":11,"x":368,"y":0.017},{"c":12,"x":368,"y":0.018},{"c":13,"x":368,"y":0.018},{"c":14,"x":368,"y":0.019},{"c":15,"x":368,"y":0.020},{"c":16,"x":368,"y":0.020},{"c":17,"x":368,"y":0.021},
{"c":0,"x":380,"y":0.006},{"c":1,"x":380,"y":0.007},{"c":2,"x":380,"y":0.008},{"c":3,"x":380,"y":0.009},{"c":4,"x":380,"y":0.010},{"c":5,"x":380,"y":0.010},{"c":6,"x":380,"y":0.011},{"c":7,"x":380,"y":0.012},{"c":8,"x":380,"y":0.013},{"c":9,"x":380,"y":0.013},{"c":10,"x":380,"y":0.014},{"c":11,"x":380,"y":0.014},{"c":12,"x":380,"y":0.015},{"c":13,"x":380,"y":0.016},{"c":14,"x":380,"y":0.016},{"c":15,"x":380,"y":0.017},{"c":16,"x":380,"y":0.017},{"c":17,"x":380,"y":0.018}
],
"b2":[
{"c":0,"x":300,"y":0.465},{"c":1,"x":300,"y":0.460},{"c":2,"x":300,"y":0.456},{"c":3,"x":300,"y":0.451},{"c":4,"x":300,"y":0.446},{"c":5,"x":300,"y":0.442},{"c":6,"x":300,"y":0.437},{"c":7,"x":300,"y":0.432},{"c":8,"x":300,"y":0.428},{"c":9,"x":300,"y":0.423},{"c":10,"x":300,"y":0.418},{"c":11,"x":300,"y":0.414},{"c":12,"x":300,"y":0.409},{"c":13,"x":300,"y":0.404},{"c":14,"x":300,"y":0.400},{"c":15,"x":300,"y":0.395},
{"c":0,"x":302,"y":0.500},{"c":1,"x":302,"y":0.495},{"c":2,"x":302,"y":0.490},{"c":3,"x":302,"y":0.485},{"c":4,"x":302,"y":0.480},{"c":5,"x":302,"y":0.475},{"c":6,"x":302,"y":0.470},{"c":7,"x":302,"y":0.465},{"c":8,"x":302,"y":0.460},{"c":9,"x":302,"y":0.455},{"c":10,"x":302,"y":0.450},{"c":11,"x":302,"y":0.445},{"c":12,"x":302,"y":0.440},{"c":13,"x":302,"y":0.435},{"c":14,"x":302,"y":0.430},{"c":15,"x":302,"y":0.425},
{"c":0,"x":304,"y":0.515},{"c":1,"x":304,"y":0.510},{"c":2,"x":304,"y":0.505},{"c":3,"x":304,"y":0.500},{"c":4,"x":304,"y":0.495},{"c":5,"x":304,"y":0.490},{"c":6,"x":304,"y":0.485},{"c":7,"x":304,"y":0.480},{"c":8,"x":304,"y":0.475},{"c":9,"x":304,"y":0.470},{"c":10,"x":304,"y":0.465},{"c":11,"x":304,"y":0.460},{"c":12,"x":304,"y":0.455},{"c":13,"x":304,"y":0.450},{"c":14,"x":304,"y":0.445},{"c":15,"x":304,"y":0.440},
{"c":0,"x":306,"y":0.508},{"c":1,"x":306,"y":0.503},{"c":2,"x":306,"y":0.499},{"c":3,"x":306,"y":0.494},{"c":4,"x":306,"y":0.489},{"c":5,"x":306,"y":0.485},{"c":6,"x":306,"y":0.480},{"c":7,"x":306,"y":0.475},{"c":8,"x":306,"y":0.471},{"c":9,"x":306,"y":0.466},{"c":10,"x":306,"y":0.461},{"c":11,"x":306,"y":0.457},{"c":12,"x":306,"y":0.452},{"c":13,"x":306,"y":0.447},{"c":14,"x":306,"y":0.443},{"c":15,"x":306,"y":0.438},
{"c":0,"x":308,"y":0.495},{"c":1,"x":308,"y":0.491},{"c":2,"x":308,"y":0.487},{"c":3,"x":308,"y":0.483},{"c":4,"x":308,"y":0.478},{"c":5,"x":308,"y":0.474},{"c":6,"x":308,"y":0.470},{"c":7,"x":308,"y":0.466},{"c":8,"x":308,"y":0.462},{"c":9,"x":308,"y":0.458},{"c":10,"x":308,"y":0.454},{"c":11,"x":308,"y":0.450},{"c":12,"x":308,"y":0.445},{"c":13,"x":308,"y":0.441},{"c":14,"x":308,"y":0.437},{"c":15,"x":308,"y":0.433},
{"c":0,"x":310,"y":0.497},{"c":1,"x":310,"y":0.493},{"c":2,"x":310,"y":0.489},{"c":3,"x":310,"y":0.485},{"c":4,"x":310,"y":0.481},{"c":5,"x":310,"y":0.477},{"c":6,"x":310,"y":0.473},{"c":7,"x":310,"y":0.469},{"c":8,"x":310,"y":0.464},{"c":9,"x":310,"y":0.460},{"c":10,"x":310,"y":0.456},{"c":11,"x":310,"y":0.452},{"c":12,"x":310,"y":0.448},{"c":13,"x":310,"y":0.444},{"c":14,"x":310,"y":0.440},{"c":15,"x":310,"y":0.436},
{"c":0,"x":312,"y":0.540},{"c":1,"x":312,"y":0.535},{"c":2,"x":312,"y":0.529},{"c":3,"x":312,"y":0.524},{"c":4,"x":312,"y":0.519},{"c":5,"x":312,"y":0.513},{"c":6,"x":312,"y":0.508},{"c":7,"x":312,"y":0.503},{"c":8,"x":312,"y":0.497},{"c":9,"x":312,"y":0.492},{"c":10,"x":312,"y":0.487},{"c":11,"x":312,"y":0.481},{"c":12,"x":312,"y":0.476},{"c":13,"x":312,"y":0.471},{"c":14,"x":312,"y":0.465},{"c":15,"x":312,"y":0.460},
{"c":0,"x":314,"y":0.625},{"c":1,"x":314,"y":0.617},{"c":2,"x":314,"y":0.610},{"c":3,"x":314,"y":0.602},{"c":4,"x":314,"y":0.594},{"c":5,"x":314,"y":0.587},{"c":6,"x":314,"y":0.579},{"c":7,"x":314,"y":0.571},{"c":8,"x":314,"y":0.564},{"c":9,"x":314,"y":0.556},{"c":10,"x":314,"y":0.548},{"c":11,"x":314,"y":0.541},{"c":12,"x":314,"y":0.533},{"c":13,"x":314,"y":0.525},{"c":14,"x":314,"y":0.518},{"c":15,"x":314,"y":0.510},
{"c":0,"x":315,"y":0.650},{"c":1,"x":315,"y":0.642},{"c":2,"x":315,"y":0.634},{"c":3,"x":315,"y":0.626},{"c":4,"x":315,"y":0.618},{"c":5,"x":315,"y":0.610},{"c":6,"x":315,"y":0.602},{"c":7,"x":315,"y":0.594},{"c":8,"x":315,"y":0.586},{"c":9,"x":315,"y":0.578},{"c":10,"x":315,"y":0.570},{"c":11,"x":315,"y":0.562},{"c":12,"x":315,"y":0.554},{"c":13,"x":315,"y":0.546},{"c":14,"x":315,"y":0.538},{"c":15,"x":315,"y":0.530},
{"c":0,"x":316,"y":0.642},{"c":1,"x":316,"y":0.635},{"c":2,"x":316,"y":0.627},{"c":3,"x":316,"y":0.620},{"c":4,"x":316,"y":0.612},{"c":5,"x":316,"y":0.605},{"c":6,"x":316,"y":0.597},{"c":7,"x":316,"y":0.590},{"c":8,"x":316,"y":0.582},{"c":9,"x":316,"y":0.575},{"c":10,"x":316,"y":0.567},{"c":11,"x":316,"y":0.560},{"c":12,"x":316,"y":0.552},{"c":13,"x":316,"y":0.545},{"c":14,"x":316,"y":0.537},{"c":15,"x":316,"y":0.530},
{"c":0,"x":318,"y":0.585},{"c":1,"x":318,"y":0.580},{"c":2,"x":318,"y":0.575},{"c":3,"x":318,"y":0.570},{"c":4,"x":318,"y":0.565},{"c":5,"x":318,"y":0.560},{"c":6,"x":318,"y":0.555},{"c":7,"x":318,"y":0.550},{"c":8,"x":318,"y":0.545},{"c":9,"x":318,"y":0.540},{"c":10,"x":318,"y":0.535},{"c":11,"x":318,"y":0.530},{"c":12,"x":318,"y":0.525},{"c":13,"x":318,"y":0.520},{"c":14,"x":318,"y":0.515},{"c":15,"x":318,"y":0.510},
{"c":0,"x":320,"y":0.468},{"c":1,"x":320,"y":0.467},{"c":2,"x":320,"y":0.466},{"c":3,"x":320,"y":0.465},{"c":4,"x":320,"y":0.465},{"c":5,"x":320,"y":0.464},{"c":6,"x":320,"y":0.463},{"c":7,"x":320,"y":0.462},{"c":8,"x":320,"y":0.461},{"c":9,"x":320,"y":0.460},{"c":10,"x":320,"y":0.459},{"c":11,"x":320,"y":0.458},{"c":12,"x":320,"y":0.458},{"c":13,"x":320,"y":0.457},{"c":14,"x":320,"y":0.456},{"c":15,"x":320,"y":0.455},
{"c":0,"x":323,"y":0.345},{"c":1,"x":323,"y":0.347},{"c":2,"x":323,"y":0.348},{"c":3,"x":323,"y":0.350},{"c":4,"x":323,"y":0.352},{"c":5,"x":323,"y":0.353},{"c":6,"x":323,"y":0.355},{"c":7,"x":323,"y":0.357},{"c":8,"x":323,"y":0.358},{"c":9,"x":323,"y":0.360},{"c":10,"x":323,"y":0.362},{"c":11,"x":323,"y":0.363},{"c":12,"x":323,"y":0.365},{"c":13,"x":323,"y":0.367},{"c":14,"x":323,"y":0.368},{"c":15,"x":323,"y":0.370},
{"c":0,"x":326,"y":0.270},{"c":1,"x":326,"y":0.273},{"c":2,"x":326,"y":0.275},{"c":3,"x":326,"y":0.278},{"c":4,"x":326,"y":0.281},{"c":5,"x":326,"y":0.283},{"c":6,"x":326,"y":0.286},{"c":7,"x":326,"y":0.289},{"c":8,"x":326,"y":0.291},{"c":9,"x":326,"y":0.294},{"c":10,"x":326,"y":0.297},{"c":11,"x":326,"y":0.299},{"c":12,"x":326,"y":0.302},{"c":13,"x":326,"y":0.305},{"c":14,"x":326,"y":0.307},{"c":15,"x":326,"y":0.310},
{"c":0,"x":330,"y":0.180},{"c":1,"x":330,"y":0.183},{"c":2,"x":330,"y":0.186},{"c":3,"x":330,"y":0.189},{"c":4,"x":330,"y":0.192},{"c":5,"x":330,"y":0.195},{"c":6,"x":330,"y":0.198},{"c":7,"x":330,"y":0.201},{"c":8,"x":330,"y":0.204},{"c":9,"x":330,"y":0.207},{"c":10,"x":330,"y":0.210},{"c":11,"x":330,"y":0.213},{"c":12,"x":330,"y":0.216},{"c":13,"x":330,"y":0.219},{"c":14,"x":330,"y":0.222},{"c":15,"x":330,"y":0.225},
{"c":0,"x":335,"y":0.080},{"c":1,"x":335,"y":0.083},{"c":2,"x":335,"y":0.085},{"c":3,"x":335,"y":0.088},{"c":4,"x":335,"y":0.091},{"c":5,"x":335,"y":0.093},{"c":6,"x":335,"y":0.096},{"c":7,"x":335,"y":0.099},{"c":8,"x":335,"y":0.101},{"c":9,"x":335,"y":0.104},{"c":10,"x":335,"y":0.107},{"c":11,"x":335,"y":0.109},{"c":12,"x":335,"y":0.112},{"c":13,"x":335,"y":0.115},{"c":14,"x":335,"y":0.117},{"c":15,"x":335,"y":0.120},
{"c":0,"x":340,"y":0.028},{"c":1,"x":340,"y":0.030},{"c":2,"x":340,"y":0.032},{"c":3,"x":340,"y":0.034},{"c":4,"x":340,"y":0.036},{"c":5,"x":340,"y":0.038},{"c":6,"x":340,"y":0.040},{"c":7,"x":340,"y":0.042},{"c":8,"x":340,"y":0.044},{"c":9,"x":340,"y":0.046},{"c":10,"x":340,"y":0.048},{"c":11,"x":340,"y":0.050},{"c":12,"x":340,"y":0.052},{"c":13,"x":340,"y":0.054},{"c":14,"x":340,"y":0.056},{"c":15,"x":340,"y":0.058},
{"c":0,"x":347,"y":0.012},{"c":1,"x":347,"y":0.013},{"c":2,"x":347,"y":0.014},{"c":3,"x":347,"y":0.015},{"c":4,"x":347,"y":0.016},{"c":5,"x":347,"y":0.017},{"c":6,"x":347,"y":0.018},{"c":7,"x":347,"y":0.019},{"c":8,"x":347,"y":0.021},{"c":9,"x":347,"y":0.022},{"c":10,"x":347,"y":0.023},{"c":11,"x":347,"y":0.024},{"c":12,"x":347,"y":0.025},{"c":13,"x":347,"y":0.026},{"c":14,"x":347,"y":0.027},{"c":15,"x":347,"y":0.028},
{"c":0,"x":356,"y":0.005},{"c":1,"x":356,"y":0.006},{"c":2,"x":356,"y":0.006},{"c":3,"x":356,"y":0.007},{"c":4,"x":356,"y":0.007},{"c":5,"x":356,"y":0.008},{"c":6,"x":356,"y":0.009},{"c":7,"x":356,"y":0.009},{"c":8,"x":356,"y":0.010},{"c":9,"x":356,"y":0.010},{"c":10,"x":356,"y":0.011},{"c":11,"x":356,"y":0.012},{"c":12,"x":356,"y":0.012},{"c":13,"x":356,"y":0.013},{"c":14,"x":356,"y":0.013},{"c":15,"x":356,"y":0.014},
{"c":0,"x":368,"y":0.003},{"c":1,"x":368,"y":0.003},{"c":2,"x":368,"y":0.004},{"c":3,"x":368,"y":0.004},{"c":4,"x":368,"y":0.004},{"c":5,"x":368,"y":0.005},{"c":6,"x":368,"y":0.005},{"c":7,"x":368,"y":0.005},{"c":8,"x":368,"y":0.006},{"c":9,"x":368,"y":0.006},{"c":10,"x":368,"y":0.006},{"c":11,"x":368,"y":0.007},{"c":12,"x":368,"y":0.007},{"c":13,"x":368,"y":0.007},{"c":14,"x":368,"y":0.008},{"c":15,"x":368,"y":0.008},
{"c":0,"x":380,"y":0.002},{"c":1,"x":380,"y":0.002},{"c":2,"x":380,"y":0.003},{"c":3,"x":380,"y":0.003},{"c":4,"x":380,"y":0.003},{"c":5,"x":380,"y":0.003},{"c":6,"x":380,"y":0.004},{"c":7,"x":380,"y":0.004},{"c":8,"x":380,"y":0.004},{"c":9,"x":380,"y":0.004},{"c":10,"x":380,"y":0.005},{"c":11,"x":380,"y":0.005},{"c":12,"x":380,"y":0.005},{"c":13,"x":380,"y":0.005},{"c":14,"x":380,"y":0.006},{"c":15,"x":380,"y":0.006}
]
},
"columns":2,
"spacing":{"row":115,"column":78},
"bounds":"flush",
"concat":[
{"width":388,"height":260,
"title":{"text":"(a)","anchor":"start","frame":"group","font":"Liberation Serif","fontSize":22,"fontWeight":"bold","color":"#000","dx":-85,"offset":-3,"baseline":"alphabetic"},
"layer":[
{"data":{"name":"a1"},"mark":{"type":"line","interpolate":"monotone","stroke":"#111","strokeWidth":0.8},
"encoding":{"x":{"field":"x","type":"quantitative","scale":{"domain":[300,380],"nice":false},"axis":{"values":[300,320,340,360,380],"format":"d","labelPadding":6,"title":"λ/nm","titleX":340,"titleY":37,"titleAlign":"center","titleBaseline":"middle","titleAnchor":null}},
"y":{"field":"y","type":"quantitative","scale":{"domain":[0,0.8],"nice":false},"axis":{"values":[0,0.2,0.4,0.6,0.8],"format":".1f","labelPadding":4,"title":"A","titleAngle":0,"titleX":-51,"titleY":34,"titleAlign":"center","titleBaseline":"middle","titleAnchor":null}},
"detail":{"field":"c","type":"nominal"}}},
{"data":{"values":[{"x":318.8,"y":0.79,"y2":0.61}]},"mark":{"type":"rule","strokeWidth":2,"color":"#000"},"encoding":{"x":{"field":"x","type":"quantitative"},"y":{"field":"y","type":"quantitative"},"y2":{"field":"y2"}}},
{"data":{"values":[{"x":318.8,"y":0.6015}]},"mark":{"type":"point","shape":"M-0.53,-1L0.53,-1L0,1Z","filled":true,"size":289,"color":"#000","opacity":1,"strokeWidth":0},"encoding":{"x":{"field":"x","type":"quantitative"},"y":{"field":"y","type":"quantitative"}}},
{"data":{"values":[{"x":320.8,"y":0.70,"t":"+ DNA"}]},"mark":{"type":"text","align":"left","baseline":"middle","fontSize":22,"font":"Liberation Sans","color":"#000"},"encoding":{"x":{"field":"x","type":"quantitative"},"y":{"field":"y","type":"quantitative"},"text":{"field":"t"}}}
]},
{"width":388,"height":260,
"layer":[
{"data":{"name":"a2"},"mark":{"type":"line","interpolate":"monotone","stroke":"#111","strokeWidth":0.8},
"encoding":{"x":{"field":"x","type":"quantitative","scale":{"domain":[300,380],"nice":false},"axis":{"values":[300,320,340,360,380],"format":"d","labelPadding":6,"title":"λ/nm","titleX":340,"titleY":37,"titleAlign":"center","titleBaseline":"middle","titleAnchor":null}},
"y":{"field":"y","type":"quantitative","scale":{"domain":[0,0.8],"nice":false},"axis":{"values":[0,0.2,0.4,0.6,0.8],"format":".1f","labelPadding":4,"title":null}},
"detail":{"field":"c","type":"nominal"}}},
{"data":{"values":[{"x":319.1,"y":0.79,"y2":0.61}]},"mark":{"type":"rule","strokeWidth":2,"color":"#000"},"encoding":{"x":{"field":"x","type":"quantitative"},"y":{"field":"y","type":"quantitative"},"y2":{"field":"y2"}}},
{"data":{"values":[{"x":319.1,"y":0.6015}]},"mark":{"type":"point","shape":"M-0.53,-1L0.53,-1L0,1Z","filled":true,"size":289,"color":"#000","opacity":1,"strokeWidth":0},"encoding":{"x":{"field":"x","type":"quantitative"},"y":{"field":"y","type":"quantitative"}}},
{"data":{"values":[{"x":321,"y":0.70,"t":"+ poly(A)•poly(U)"}]},"mark":{"type":"text","align":"left","baseline":"middle","fontSize":22,"font":"Liberation Sans","color":"#000"},"encoding":{"x":{"field":"x","type":"quantitative"},"y":{"field":"y","type":"quantitative"},"text":{"field":"t"}}}
]},
{"width":388,"height":260,
"title":{"text":"(b)","anchor":"start","frame":"group","font":"Liberation Serif","fontSize":22,"fontWeight":"bold","color":"#000","dx":-85,"offset":-3,"baseline":"alphabetic"},
"layer":[
{"data":{"name":"b1"},"mark":{"type":"line","interpolate":"monotone","stroke":"#111","strokeWidth":0.8},
"encoding":{"x":{"field":"x","type":"quantitative","scale":{"domain":[300,380],"nice":false},"axis":{"values":[300,320,340,360,380],"format":"d","labelPadding":6,"domainColor":"#000","tickColor":"#000","title":"λ/nm","titleX":340,"titleY":37,"titleAlign":"center","titleBaseline":"middle","titleAnchor":null}},
"y":{"field":"y","type":"quantitative","scale":{"domain":[0,0.8],"nice":false},"axis":{"values":[0,0.2,0.4,0.6,0.8],"format":".1f","labelPadding":4,"domainColor":"#000","tickColor":"#000","title":"A","titleAngle":0,"titleX":-51,"titleY":34,"titleAlign":"center","titleBaseline":"middle","titleAnchor":null}},
"detail":{"field":"c","type":"nominal"}}},
{"data":{"values":[{"x":318.8,"y":0.794,"y2":0.615}]},"mark":{"type":"rule","strokeWidth":2,"color":"#000"},"encoding":{"x":{"field":"x","type":"quantitative"},"y":{"field":"y","type":"quantitative"},"y2":{"field":"y2"}}},
{"data":{"values":[{"x":318.8,"y":0.608}]},"mark":{"type":"point","shape":"M-0.53,-1L0.53,-1L0,1Z","filled":true,"size":289,"color":"#000","opacity":1,"strokeWidth":0},"encoding":{"x":{"field":"x","type":"quantitative"},"y":{"field":"y","type":"quantitative"}}},
{"data":{"values":[{"x":320.8,"y":0.71,"t":"+ DNA"}]},"mark":{"type":"text","align":"left","baseline":"middle","fontSize":22,"font":"Liberation Sans","color":"#000"},"encoding":{"x":{"field":"x","type":"quantitative"},"y":{"field":"y","type":"quantitative"},"text":{"field":"t"}}}
]},
{"width":388,"height":260,
"layer":[
{"data":{"name":"b2"},"mark":{"type":"line","interpolate":"monotone","stroke":"#111","strokeWidth":0.8},
"encoding":{"x":{"field":"x","type":"quantitative","scale":{"domain":[300,380],"nice":false},"axis":{"values":[300,320,340,360,380],"format":"d","labelPadding":6,"title":"λ/nm","titleX":340,"titleY":37,"titleAlign":"center","titleBaseline":"middle","titleAnchor":null}},
"y":{"field":"y","type":"quantitative","scale":{"domain":[0,0.8],"nice":false},"axis":{"values":[0,0.2,0.4,0.6,0.8],"format":".1f","labelPadding":4,"title":null}},
"detail":{"field":"c","type":"nominal"}}},
{"data":{"values":[{"x":319.1,"y":0.794,"y2":0.615}]},"mark":{"type":"rule","strokeWidth":2,"color":"#000"},"encoding":{"x":{"field":"x","type":"quantitative"},"y":{"field":"y","type":"quantitative"},"y2":{"field":"y2"}}},
{"data":{"values":[{"x":319.1,"y":0.608}]},"mark":{"type":"point","shape":"M-0.53,-1L0.53,-1L0,1Z","filled":true,"size":289,"color":"#000","opacity":1,"strokeWidth":0},"encoding":{"x":{"field":"x","type":"quantitative"},"y":{"field":"y","type":"quantitative"}}},
{"data":{"values":[{"x":321,"y":0.708,"t":"+ poly(A)•poly(U)"}]},"mark":{"type":"text","align":"left","baseline":"middle","fontSize":22,"font":"Liberation Sans","color":"#000"},"encoding":{"x":{"field":"x","type":"quantitative"},"y":{"field":"y","type":"quantitative"},"text":{"field":"t"}}}
]}
]
}
